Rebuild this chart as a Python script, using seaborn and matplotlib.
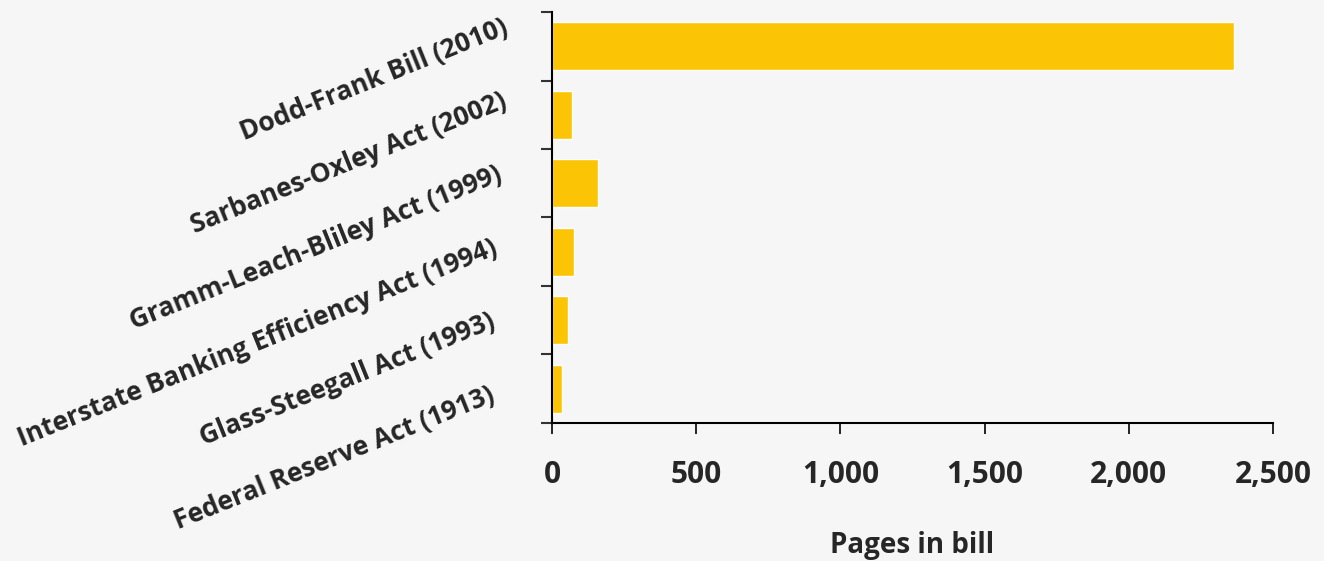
import pandas as pd
import seaborn as sns
import matplotlib.pyplot as plt
from matplotlib.ticker import FuncFormatter, FixedLocator
from matplotlib.transforms import ScaledTranslation

# bill names (top to bottom) and page counts
bills = ['Dodd-Frank Bill (2010)', 'Sarbanes-Oxley Act (2002)',
         'Gramm-Leach-Bliley Act (1999)', 'Interstate Banking Efficiency Act (1994)',
         'Glass-Steegall Act (1993)', 'Federal Reserve Act (1913)']
pages = [2365, 69, 160, 76, 55, 35]
xticks = [0, 500, 1000, 1500, 2000, 2500]

df = pd.DataFrame({'bill': bills, 'pages': pages})

bg = '#f6f6f6'
sns.set_theme(style='white', rc={'figure.facecolor': bg, 'axes.facecolor': bg})
plt.rcParams['font.family'] = ['Open Sans', 'DejaVu Sans']

fig = plt.figure(figsize=(13.24, 5.61), dpi=100)
ax = fig.add_axes([0.4169, 0.246, 0.5446, 0.7326])

sns.barplot(data=df, x='pages', y='bill', color='#fbc505', width=0.7,
            saturation=1, ax=ax)

ax.set_xlim(0, 2500)
ax.set_ylim(5.5, -0.5)
ax.xaxis.set_major_locator(FixedLocator(xticks))
ax.xaxis.set_major_formatter(FuncFormatter(lambda v, p: f'{int(v):,}'))
ax.tick_params(axis='x', direction='out', length=8, width=1.2, color='black',
               pad=19, labelsize=21.5, bottom=True)
for lab in ax.get_xticklabels():
    lab.set_fontweight('bold')

# category labels at centres, tick marks at boundaries
ax.set_yticks(range(len(bills)))
ax.set_yticklabels(bills, rotation=22, ha='right', va='center',
                   rotation_mode='anchor', fontsize=19, fontweight='bold')
ax.tick_params(axis='y', which='major', length=0, pad=40)
ax.set_yticks([i - 0.5 for i in range(len(bills) + 1)], minor=True)
ax.tick_params(axis='y', which='minor', direction='out', length=8, width=1.5,
               color='#333333', left=True)

# rotated labels are spread a bit wider than the rows (excel style)
shift_x = [10, 9, 4, 0, -3, -3]
for i, lab in enumerate(ax.get_yticklabels()):
    dx = shift_x[i] / 100
    dy = (20 - 5 * i) / 100
    lab.set_transform(lab.get_transform() + ScaledTranslation(dx, dy, fig.dpi_scale_trans))

for s in ['top', 'right']:
    ax.spines[s].set_visible(False)
for s in ['left', 'bottom']:
    ax.spines[s].set_color('black')
    ax.spines[s].set_linewidth(1.5)

ax.set_ylabel('')
ax.set_xlabel('Pages in bill', fontsize=20, fontweight='bold', labelpad=29)

fig.savefig('out.png', dpi=100, facecolor=bg)
